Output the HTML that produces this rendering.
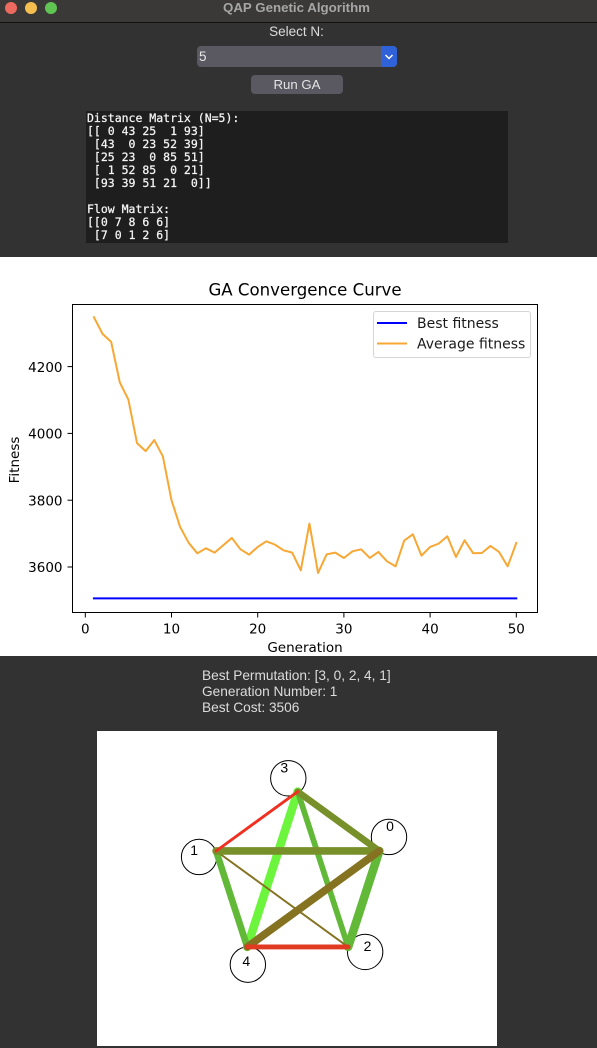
<!DOCTYPE html>
<html lang="en">
<head>
<meta charset="utf-8">
<title>QAP Genetic Algorithm</title>
<style>
html,body{margin:0;padding:0;background:#323232;}
#app{position:relative;width:597px;height:1048px;overflow:hidden;background:#323232;font-family:"Liberation Sans",sans-serif;}
.abs{position:absolute;}
.t{position:absolute;white-space:pre;font-size:13.7px;line-height:16px;color:#dcdcdc;}
svg text{font-family:"DejaVu Sans",sans-serif;}
</style>
</head>
<body>
<div id="app">
  <div class="abs" style="left:0;top:0;width:597px;height:22px;background:#3a3938;border-bottom:1px solid #111;"></div>
  <div class="abs" style="left:5px;top:2px;width:12px;height:12px;border-radius:50%;background:#ed6a5e;"></div>
  <div class="abs" style="left:25px;top:2px;width:12px;height:12px;border-radius:50%;background:#f5bf4f;"></div>
  <div class="abs" style="left:45px;top:2px;width:12px;height:12px;border-radius:50%;background:#61c554;"></div>
  <div class="t" style="left:0;width:593px;top:0;text-align:center;font-weight:bold;font-size:13.3px;color:#a6a6a6;">QAP Genetic Algorithm</div>

  <div class="t" style="left:0;width:593px;top:24px;text-align:center;font-size:13.5px;">Select N:</div>
  <div class="abs" style="left:197px;top:46px;width:200px;height:21px;border-radius:4px;background:#5a5860;overflow:hidden;">
    <div class="t" style="left:2px;top:3px;color:#e8e8e8;font-size:13.5px;">5</div>
    <div class="abs" style="right:0;top:0;width:16px;height:21px;background:#2f62d8;">
      <svg width="16" height="21"><path d="M4.5 9 L8 12.5 L11.5 9" fill="none" stroke="#fff" stroke-width="1.5"/></svg>
    </div>
  </div>
  <div class="abs" style="left:251px;top:75px;width:92px;height:19px;border-radius:4px;background:#5a5860;color:#e4e4e4;font-size:13.2px;line-height:19px;text-align:center;">Run GA</div>

  <div class="abs" style="left:86px;top:111px;width:422px;height:132px;background:#1e1e1e;overflow:hidden;">
    <pre style="margin:0;position:absolute;left:1px;top:1px;font-family:'DejaVu Sans Mono','Liberation Mono',monospace;font-size:11.5px;line-height:13px;color:#f4f4f4;-webkit-text-stroke:0.25px #f4f4f4;">Distance Matrix (N=5):
[[ 0 43 25  1 93]
 [43  0 23 52 39]
 [25 23  0 85 51]
 [ 1 52 85  0 21]
 [93 39 51 21  0]]

Flow Matrix:
[[0 7 8 6 6]
 [7 0 1 2 6]</pre>
  </div>

  <svg id="chart" class="abs" style="left:0;top:257px;" width="597" height="399" viewBox="0 257 597 399"></svg>

  <div class="t" style="left:202px;top:668px;">Best Permutation: [3, 0, 2, 4, 1]</div>
  <div class="t" style="left:202px;top:684px;">Generation Number: 1</div>
  <div class="t" style="left:202px;top:700px;">Best Cost: 3506</div>

  <svg id="graph" class="abs" style="left:97px;top:731px;background:#fff;" width="400" height="315" viewBox="97 731 400 315"></svg>
</div>

<script>
const bestFitness = [3506,3506,3506,3506,3506,3506,3506,3506,3506,3506,3506,3506,3506,3506,3506,3506,3506,3506,3506,3506,3506,3506,3506,3506,3506,3506,3506,3506,3506,3506,3506,3506,3506,3506,3506,3506,3506,3506,3506,3506,3506,3506,3506,3506,3506,3506,3506,3506,3506,3506];
const averageFitness = [4348,4298,4274,4153,4101,3971,3947,3980,3931,3800,3720,3672,3641,3656,3643,3665,3687,3653,3637,3660,3677,3667,3650,3643,3590,3730,3582,3638,3643,3627,3647,3653,3627,3645,3617,3602,3679,3698,3634,3660,3670,3692,3630,3680,3641,3642,3663,3645,3602,3672];
const xTickValues = [0,10,20,30,40,50];
const yTickValues = [3600,3800,4000,4200];
const legendLabels = ['Best fitness','Average fitness'];

const permutation = [3,0,2,4,1];
const edgeFrom = [3,3,1,0,0,1,0,0,1,2];
const edgeTo   = [4,2,4,2,3,2,1,4,3,4];
const edgeFlow = [8,5,6,8,6,1,7,7,2,4];
const edgeBand = [0,1,1,1,2,3,2,3,4,5];

const SVGNS = 'http://www.w3.org/2000/svg';
function mk(parent, tag, attrs){
  const el = document.createElementNS(SVGNS, tag);
  for(const k in attrs){ el.setAttribute(k, attrs[k]); }
  parent.appendChild(el);
  return el;
}

/* ---------- convergence chart ---------- */
const chart = document.getElementById('chart');
const plotLeft = 72.5, plotRight = 537.5, plotTop = 304.5, plotBottom = 612.5;
function xScale(g){ return 85.3 + g * 8.62; }
function yScale(v){ return 567 - (v - 3600) * 0.334; }

const bg = mk(chart,'rect',{x:0,y:257,width:597,height:399,fill:'#fff'});



function seriesPath(values){
  return values.map(function(v,i){ return (i?'L':'M') + xScale(i+1).toFixed(2) + ' ' + yScale(v).toFixed(2); }).join(' ');
}
const bestLine = mk(chart,'path',{d:seriesPath(bestFitness),fill:'none',stroke:'#0000ff','stroke-width':2,'stroke-linecap':'square'});


const avgLine = mk(chart,'path',{d:seriesPath(averageFitness),fill:'none',stroke:'#f7a733','stroke-width':2,'stroke-linejoin':'round','stroke-linecap':'square'});



const frame = mk(chart,'rect',{x:plotLeft,y:plotTop,width:plotRight-plotLeft,height:plotBottom-plotTop,fill:'none',stroke:'#000','stroke-width':1});



xTickValues.forEach(function(t){
  const x = xScale(t);
  const tick = mk(chart,'line',{x1:x,x2:x,y1:plotBottom,y2:plotBottom+5,stroke:'#000','stroke-width':1});
  
  
  const lab = mk(chart,'text',{x:x,y:633.5,'text-anchor':'middle','font-size':13.5,fill:'#000'});
  lab.textContent = t;
  
  
});
yTickValues.forEach(function(t){
  const y = yScale(t);
  const tick = mk(chart,'line',{x1:plotLeft-5,x2:plotLeft,y1:y,y2:y,stroke:'#000','stroke-width':1});
  
  
  const lab = mk(chart,'text',{x:plotLeft-10,y:y+5.2,'text-anchor':'end','font-size':13.5,fill:'#000'});
  lab.textContent = t;
  
  
});

const chartTitle = mk(chart,'text',{x:305,y:295.5,'text-anchor':'middle','font-size':16.6,fill:'#000'});
chartTitle.textContent = 'GA Convergence Curve';


const xTitle = mk(chart,'text',{x:305,y:652,'text-anchor':'middle','font-size':13.5,fill:'#000'});
xTitle.textContent = 'Generation';


const yTitle = mk(chart,'text',{x:0,y:0,'text-anchor':'middle','font-size':13.5,fill:'#000',transform:'translate(19 460) rotate(-90)'});
yTitle.textContent = 'Fitness';



const legendBox = mk(chart,'rect',{x:373.5,y:311.5,width:157,height:46,rx:2.5,fill:'#fff',stroke:'#d5d5d5','stroke-width':1});


const legendColors = ['#0000ff','#f7a733'];
legendLabels.forEach(function(label,i){
  const y = 323 + i * 20.5;
  const sw = mk(chart,'line',{x1:377,x2:407,y1:y,y2:y,stroke:legendColors[i],'stroke-width':2});
  
  
  const tx = mk(chart,'text',{x:417,y:y+5,'font-size':14,fill:'#1a1a1a'});
  tx.textContent = label;
  
  
});

/* ---------- permutation graph ---------- */
const graph = document.getElementById('graph');
const cx = 297.7, cy = 877.5, ringRadius = 85.8;
function nodePoint(node){
  const slot = permutation.indexOf(node);
  const a = -Math.PI/2 + slot * 2 * Math.PI / permutation.length;
  return {x: cx + ringRadius * Math.cos(a), y: cy + ringRadius * Math.sin(a)};
}
/* offsets of the circle and label from each node's anchor, indexed by node id */
const circleDX = [9.7,-17,17,-9.4,0.6], circleDY = [-14,6,5,-13.4,17.7];
const labelDX = [10.7,-22,19.4,-13.4,-1], labelDY = [-25,-1,-1,-24.4,14];
const bandPalette = ['#6cf53c','#62b938','#78902a','#857322','#f03020','#e03a20'];

permutation.forEach(function(node){
  const p = nodePoint(node);
  const c = mk(graph,'circle',{cx:p.x+circleDX[node],cy:p.y+circleDY[node],r:17.7,fill:'#fff',stroke:'#000','stroke-width':1});
  
  
});
edgeFrom.forEach(function(from,i){
  const a = nodePoint(from), b = nodePoint(edgeTo[i]);
  const line = mk(graph,'line',{x1:a.x,y1:a.y,x2:b.x,y2:b.y,stroke:bandPalette[edgeBand[i]],'stroke-width':1+edgeFlow[i]*0.95,'stroke-linecap':'round'});
  
  
});
permutation.forEach(function(node){
  const p = nodePoint(node);
  const t = mk(graph,'text',{x:p.x+labelDX[node],y:p.y+labelDY[node]+5,'text-anchor':'middle','font-size':14,fill:'#000'});
  t.style.fontFamily = '"Liberation Sans",sans-serif';
  t.textContent = node;
  
  
});
</script>
</body>
</html>
